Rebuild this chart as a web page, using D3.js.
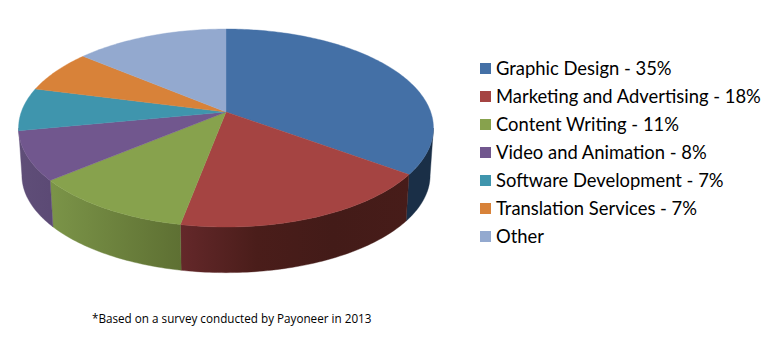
<!DOCTYPE html>
<html><head><meta charset="utf-8">
<script src="https://cdn.jsdelivr.net/npm/d3@7/dist/d3.min.js"></script>
<style>html,body{margin:0;padding:0;background:#fff}svg{display:block}</style>
</head><body><svg id="c" width="781" height="360"></svg>
<script>
const categories = ["Graphic Design","Marketing and Advertising","Content Writing","Video and Animation","Software Development","Translation Services","Other"];
const values = [35,18,11,8,7,7,14];
const legendLabels = ["Graphic Design - 35%","Marketing and Advertising - 18%","Content Writing - 11%","Video and Animation - 8%","Software Development - 7%","Translation Services - 7%","Other"];
const topColors = ["#4470a6","#a54442","#87a24d","#71578e","#3f95ad","#d88239","#93a9cf"];
const wallStops = [["#1a2f47","#1a2f47"],["#64282a","#4a1d1a","#431b18","#471c19"],["#7b9448","#5e7033"],["#5f4e78","#5c4a75"],null,null,null];
const footnote = "*Based on a survey conducted by Payoneer in 2013";

const svg = d3.select("#c");
const k = 0.1616;
const xScale = d3.scaleLinear().domain([-1,1]).range([226-204.7,226+204.7]);
const yScale = d3.scaleLinear().domain([-1,1]).range([112-96.4,112+96.4]);
const xBase = d3.scaleLinear().domain([-1,1]).range([226-204.7*0.984,226+204.7*0.984]);
const yBase = d3.scaleLinear().domain([-1,1]).range([112+47.5-96.4*0.984,112+47.5+96.4*0.984]);
function proj(a,r,sx,sy){
  const X=r*Math.sin(a),Y=-r*Math.cos(a),s=1/(1-k*Y);
  return [sx(X*s),sy(Y*s)];
}
const pie = d3.pie().sort(null).value(d=>d)(values);
const step = Math.PI/180;
function arcAngles(a,b){const out=d3.range(a,b,step);out.push(b);return out;}
const line = d3.line();
const defs = svg.append("defs");
const wallMin = Math.acos(-k), wallMax = 2*Math.PI-Math.acos(-k);

// side walls, between the two silhouette tangents of the disc
pie.forEach((d,i)=>{
  if(!wallStops[i]) return;
  const a=Math.max(d.startAngle,wallMin), b=wallStops[i+1]?d.endAngle:wallMax;
  const angs=arcAngles(a,b);
  const top=angs.map(t=>proj(t,1,xScale,yScale));
  const bot=angs.map(t=>proj(t,1,xBase,yBase)).reverse();
  const xs=top.map(p=>p[0]);
  const g=defs.append("linearGradient").attr("id","w"+i).attr("gradientUnits","userSpaceOnUse")
    .attr("x1",d3.min(xs)).attr("x2",d3.max(xs)).attr("y1",0).attr("y2",0);
  wallStops[i].forEach((c,j,arr)=>g.append("stop").attr("offset",j/(arr.length-1)).attr("stop-color",c));
  svg.append("path").attr("d",line(top.concat(bot))+"Z").attr("fill",`url(#w${i})`).attr("stroke",`url(#w${i})`).attr("stroke-width",0.4);
});
// top face
pie.forEach((d,i)=>{
  const pts=[proj(0,0,xScale,yScale)].concat(arcAngles(d.startAngle,d.endAngle).map(t=>proj(t,1,xScale,yScale)));
  svg.append("path").attr("d",line(pts)+"Z").attr("fill",topColors[i]).attr("stroke",topColors[i]).attr("stroke-width",0.4);
});
// legend
const rowY = d3.scalePoint().domain(categories).range([68.5,236.5]);
categories.forEach((c,i)=>{
  const y=rowY(c);
  svg.append("rect").attr("x",480).attr("y",y-5.5).attr("width",11).attr("height",11).attr("fill",topColors[i]);
  svg.append("text").attr("x",496).attr("y",y+6.5).attr("font-family","Lato").attr("font-size",18.4).attr("fill","#000").text(legendLabels[i]);
});
svg.append("text").attr("x",92).attr("y",323).attr("font-family","'Open Sans'").attr("font-size",11.7).attr("fill","#000").text(footnote);
</script></body></html>
